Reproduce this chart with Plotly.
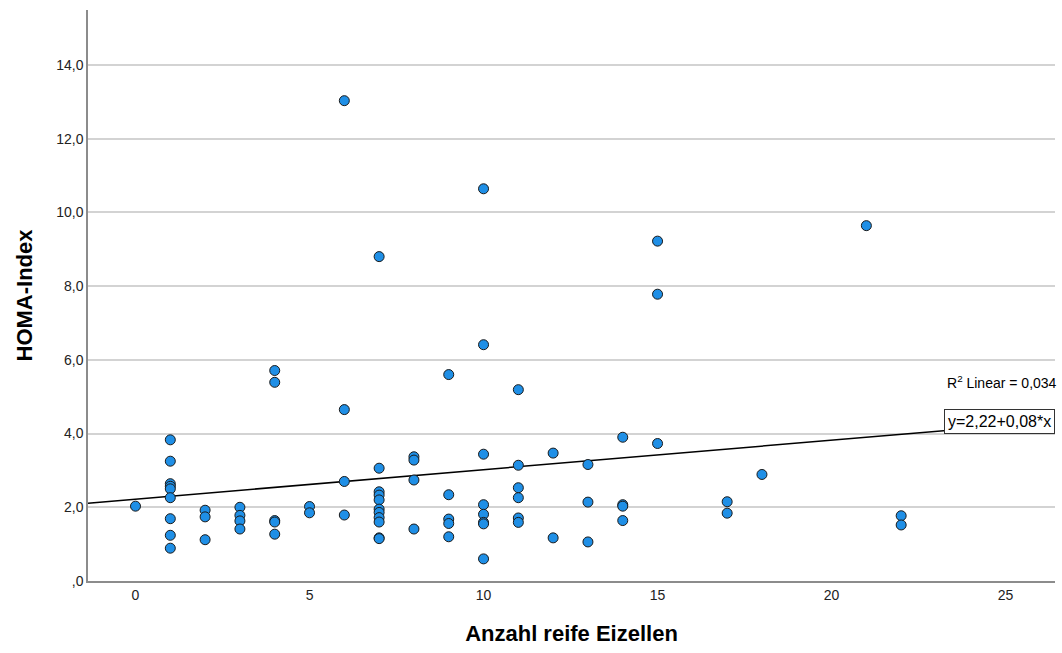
import plotly.graph_objects as go

# Data
x_vals = [0,
          1, 1, 1, 1, 1, 1, 1, 1, 1,
          2, 2, 2,
          3, 3, 3, 3,
          4, 4, 4, 4, 4,
          5, 5,
          6, 6, 6, 6,
          7, 7, 7, 7, 7, 7, 7, 7, 7, 7, 7,
          8, 8, 8, 8,
          9, 9, 9, 9, 9,
          10, 10, 10, 10, 10, 10, 10, 10,
          11, 11, 11, 11, 11, 11,
          12, 12,
          13, 13, 13,
          14, 14, 14, 14,
          15, 15, 15,
          17, 17,
          18,
          21,
          22, 22]
y_vals = [2.03,
          3.83, 3.25, 2.64, 2.57, 2.50, 2.26, 1.69, 1.24, 0.89,
          1.92, 1.74, 1.12,
          2.00, 1.78, 1.63, 1.41,
          5.71, 5.39, 1.64, 1.60, 1.27,
          2.02, 1.85,
          13.03, 4.65, 2.70, 1.79,
          8.80, 3.06, 2.42, 2.33, 2.20, 1.95, 1.86, 1.72, 1.60, 1.17, 1.15,
          3.37, 3.28, 2.74, 1.41,
          5.60, 2.34, 1.68, 1.56, 1.20,
          10.64, 6.41, 3.44, 2.07, 1.81, 1.59, 1.55, 0.60,
          5.19, 3.14, 2.53, 2.26, 1.71, 1.59,
          3.47, 1.17,
          3.16, 2.14, 1.06,
          3.90, 2.07, 2.03, 1.64,
          9.22, 7.78, 3.73,
          2.15, 1.84,
          2.89,
          9.64,
          1.77, 1.52]

intercept = 2.22
slope = 0.08
r2_text = "R<sup>2</sup> Linear = 0,034"
eq_text = "y=2,22+0,08*x"

x_range = [-1.365, 26.42]
y_range = [0, 15.49]
x_ticks = [0, 5, 10, 15, 20, 25]
y_ticks = [0, 2, 4, 6, 8, 10, 12, 14]
y_ticklabels = [",0", "2,0", "4,0", "6,0", "8,0", "10,0", "12,0", "14,0"]

fig = go.Figure()

line_x = [x_range[0], x_range[1]]
line_y = [intercept + slope * v for v in line_x]
fig.add_trace(go.Scatter(x=line_x, y=line_y, mode="lines",
                         line=dict(color="black", width=1.5),
                         hoverinfo="skip", showlegend=False))

fig.add_trace(go.Scatter(x=x_vals, y=y_vals, mode="markers",
                         marker=dict(size=10, color="#1f8fe6",
                                     line=dict(color="#1a1a1a", width=1)),
                         showlegend=False))

fig.add_annotation(xref="paper", yref="paper", x=1.004, y=(581.5 - 382) / 571.5,
                   text=r2_text, showarrow=False, xanchor="right", yanchor="middle",
                   font=dict(family="Liberation Sans, Arial", size=14, color="black"))
fig.add_annotation(xref="paper", yref="paper", x=0.9995, y=(581.5 - 421.5) / 571.5,
                   text=eq_text, showarrow=False, xanchor="right", yanchor="middle",
                   font=dict(family="Liberation Sans, Arial", size=16, color="black"),
                   bgcolor="white", bordercolor="#333333", borderwidth=1, borderpad=3)

fig.update_layout(
    width=1062, height=653,
    margin=dict(l=88, r=7, t=10, b=72),
    paper_bgcolor="white", plot_bgcolor="white",
    font=dict(family="Liberation Sans, Arial", color="black"),
    xaxis=dict(range=x_range, tickvals=x_ticks, showgrid=False, zeroline=False,
               showline=True, linecolor="#8c8c8c", linewidth=1.5, ticks="",
               ticklen=6, tickcolor="white",
               tickfont=dict(size=14, color="#222222"),
               title=dict(text="<b>Anzahl reife Eizellen</b>", standoff=24,
                          font=dict(size=22, color="black"))),
    yaxis=dict(range=y_range, tickvals=y_ticks, ticktext=y_ticklabels,
               showgrid=True, gridcolor="#d3d3d3", gridwidth=2, zeroline=False,
               showline=True, linecolor="#8c8c8c", linewidth=1.5, ticks="",
               tickfont=dict(size=14, color="#222222"),
               title=dict(text="<b>HOMA-Index</b>", standoff=18,
                          font=dict(size=22, color="black"))),
)

fig.write_html("out.html")
